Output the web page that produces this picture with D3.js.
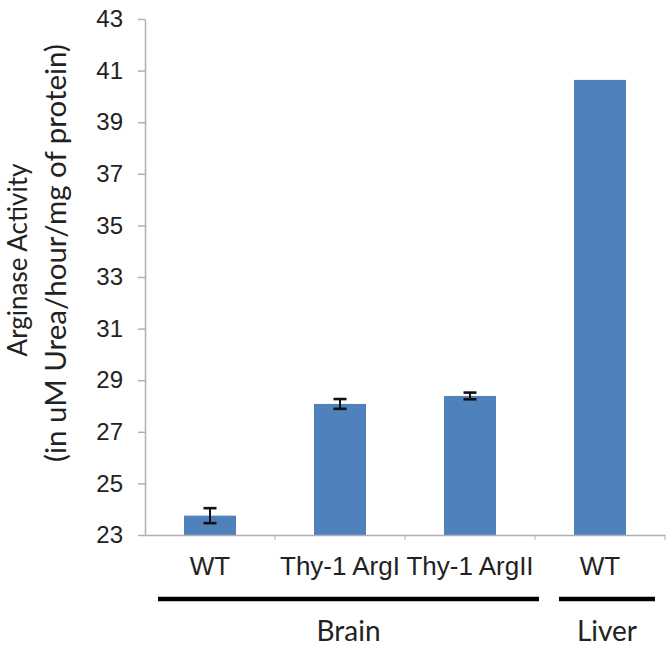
<!DOCTYPE html>
<meta charset="utf-8">
<style>
    body { margin: 0; background: #fff; }
    svg { font-family: Lato, "Open Sans", sans-serif; }
    .tick text { fill: #222; }
</style>
<body>
<svg width="669" height="652"></svg>
<script src="https://d3js.org/d3.v7.min.js"></script>
<script>
    // données
    const categories = ["WT", "Thy-1 ArgI", "Thy-1 ArgII", "WT "];
    const values = [23.75, 28.08, 28.39, 40.64];
    const errors = [0.29, 0.19, 0.13, 0];
    const yTicks = [23, 25, 27, 29, 31, 33, 35, 37, 39, 41, 43];
    const groups = [
        { name: "Brain", from: 0, to: 2 },
        { name: "Liver", from: 3, to: 3 }
    ];

    const svg = d3.select("svg");
    const margin = { top: 19, right: 4, bottom: 117, left: 145 };
    const width = +svg.attr("width");
    const height = +svg.attr("height");

    const x = d3.scaleBand()
        .domain(categories)
        .range([margin.left, width - margin.right]);

    const y = d3.scaleLinear()
        .domain([23, 43])
        .range([height - margin.bottom, margin.top]);

    const barW = x.bandwidth() * 0.4;

    // barres
    svg.append("g")
        .selectAll("rect")
        .data(values)
        .join("rect")
        .attr("x", (d, i) => x(categories[i]) + (x.bandwidth() - barW) / 2)
        .attr("y", d => y(d))
        .attr("width", barW)
        .attr("height", d => y(23) - y(d))
        .attr("fill", "#4f81bd");

    // barres d'erreur
    const err = svg.append("g")
        .attr("stroke", "#111")
        .attr("stroke-width", 2);
    values.forEach((v, i) => {
        if (!errors[i]) return;
        const cx = x(categories[i]) + x.bandwidth() / 2;
        err.append("line").attr("x1", cx).attr("x2", cx)
            .attr("y1", y(v + errors[i])).attr("y2", y(v - errors[i]));
        [v + errors[i], v - errors[i]].forEach(e => {
            err.append("line").attr("x1", cx - 6.5).attr("x2", cx + 6.5)
                .attr("y1", y(e)).attr("y2", y(e)).attr("stroke-width", 2.6);
        });
    });

    // axe Y
    const yAxis = svg.append("g")
        .attr("transform", `translate(${margin.left},0)`)
        .call(d3.axisLeft(y).tickValues(yTicks).tickSize(7).tickPadding(15).tickSizeOuter(0));
    yAxis.selectAll("text").attr("font-size", 24);
    yAxis.selectAll("line, path").attr("stroke", "#b0b0b0").attr("stroke-width", 1.5);

    // axe X
    const xAxis = svg.append("g")
        .attr("transform", `translate(0,${y(23)})`)
        .call(d3.axisBottom(x).tickSize(0).tickSizeOuter(0));
    xAxis.selectAll("text")
        .attr("font-size", 26)
        .attr("dy", null)
        .attr("y", 40);
    xAxis.select("path").attr("stroke", "#b0b0b0").attr("stroke-width", 1.5);
    xAxis.selectAll(".sep")
        .data(categories)
        .join("line")
        .attr("class", "sep")
        .attr("x1", d => x(d) + x.bandwidth()).attr("x2", d => x(d) + x.bandwidth())
        .attr("y1", 0).attr("y2", 5)
        .attr("stroke", "#b0b0b0");

    // titre de l'axe Y
    const ty = (margin.top + y(23)) / 2;
    svg.append("text")
        .attr("transform", `translate(27,${ty - 17}) rotate(-90)`)
        .attr("text-anchor", "middle")
        .attr("font-size", 26)
        .attr("fill", "#222")
        .text("Arginase Activity");
    svg.append("text")
        .attr("transform", `translate(66,${ty - 24}) rotate(-90)`)
        .attr("text-anchor", "middle")
        .attr("font-size", 29.5)
        .attr("fill", "#222")
        .text("(in uM Urea/hour/mg of protein)");

    // groupes Brain / Liver
    const gy = 599;
    const padL = [13, 24], padR = [4, -10];
    const grp = svg.append("g");
    groups.forEach((g, i) => {
        const x1 = x(categories[g.from]) + padL[i];
        const x2 = x(categories[g.to]) + x.bandwidth() + padR[i];
        grp.append("line")
            .attr("x1", x1).attr("x2", x2)
            .attr("y1", gy).attr("y2", gy)
            .attr("stroke", "#000").attr("stroke-width", 4.5);
        grp.append("text")
            .attr("x", (x1 + x2) / 2)
            .attr("y", gy + 42)
            .attr("text-anchor", "middle")
            .attr("font-size", 28)
            .attr("fill", "#222")
            .text(g.name);
    });
</script>
</body>
